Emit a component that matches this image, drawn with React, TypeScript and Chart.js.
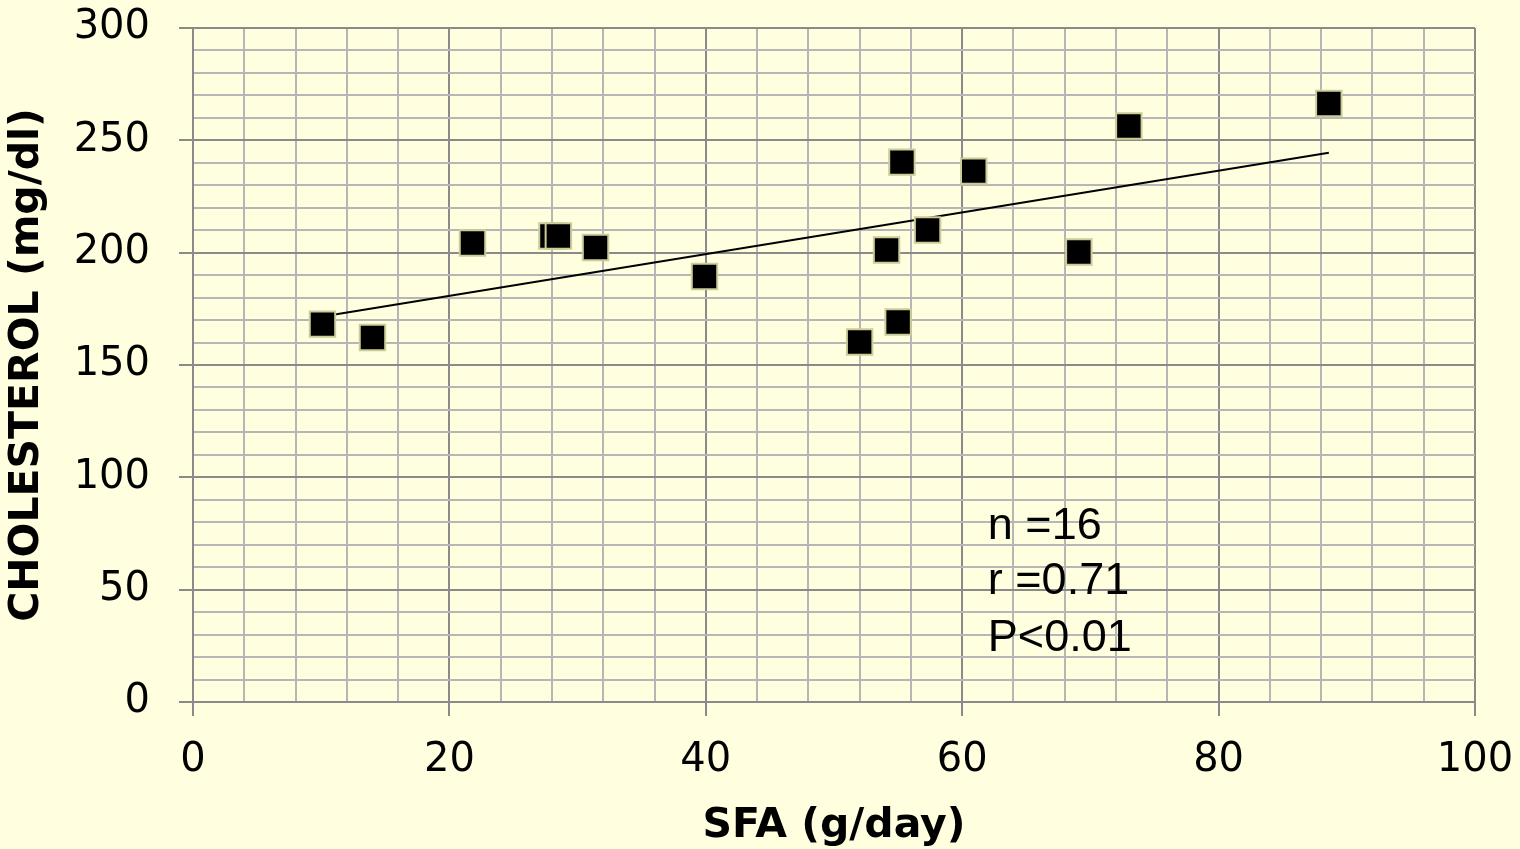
import React, { useEffect, useRef } from 'react';
import { Chart, registerables } from 'chart.js';

Chart.register(...registerables);

// SFA intake (g/day) of each subject
const sfaValues = [10.1, 14.0, 21.8, 28.0, 28.5, 31.4, 39.9, 52.0, 54.1, 55.0, 55.3, 57.3, 60.9, 69.1, 73.0, 88.6];
// Serum cholesterol (mg/dl) of each subject
const cholesterolValues = [168.2, 162.2, 204.3, 207.4, 207.4, 202.3, 189.4, 160.2, 201.2, 169.1, 240.3, 210.1, 236.3, 200.3, 256.4, 266.4];
// Linear trend line end points
const trendX = [10.1, 88.6];
const trendY = [171.6, 244.5];
// Axis label steps
const xMajorStep = 20;
const yMajorStep = 50;
// Annotation
const annotationLines = ['n =16', 'r =0.71', 'P<0.01'];
const annotationX = 62;
const annotationY = [78.8, 54.7, 28.9];

const BG = '#FFFFE0';
const MAJOR = '#8a8a8a';
const MINOR = '#b6b6b6';

const annotationPlugin = {
  id: 'statsText',
  afterDatasetsDraw(chart: any) {
    const { ctx, scales } = chart;
    ctx.save();
    ctx.fillStyle = '#000';
    ctx.font = '45px "Liberation Sans", Arial, sans-serif';
    ctx.textAlign = 'left';
    ctx.textBaseline = 'middle';
    annotationLines.forEach((t, i) => {
      const px = scales.x.getPixelForValue(annotationX);
      const py = scales.y.getPixelForValue(annotationY[i]);
      ctx.fillText(t, px, py + 2);
    });
    ctx.restore();
  },
};

const noPad = (s: any) => {
  s.paddingTop = 0;
  s.paddingBottom = 0;
  s.paddingLeft = 0;
  s.paddingRight = 0;
};

export default function App() {
  const ref = useRef<HTMLCanvasElement>(null);
  useEffect(() => {
    if (!ref.current) return;
    const points = sfaValues.map((x, i) => ({ x, y: cholesterolValues[i] }));
    const trend = trendX.map((x, i) => ({ x, y: trendY[i] }));
    const tickFont = { family: '"DejaVu Sans", sans-serif', size: 40 };
    const titleFont = { family: '"DejaVu Sans", sans-serif', size: 41, weight: 'bold' as const, lineHeight: 1 };
    const chart = new Chart(ref.current, {
      type: 'scatter',
      data: {
        datasets: [
          {
            label: 'Subjects',
            data: points,
            order: 0,
            pointStyle: 'rect',
            radius: 18,
            hoverRadius: 18,
            backgroundColor: '#000000',
            borderColor: '#cccc99',
            borderWidth: 2,
          },
          {
            label: 'Trend',
            type: 'line',
            data: trend,
            order: 1,
            borderColor: '#000000',
            borderWidth: 2,
            pointRadius: 0,
            fill: false,
          } as any,
        ],
      },
      options: {
        animation: false,
        responsive: false,
        events: [],
        layout: { padding: { left: 0, top: 28, right: 45, bottom: 0 } },
        plugins: { legend: { display: false }, tooltip: { enabled: false } },
        scales: {
          x: {
            type: 'linear',
            min: 0,
            max: 100,
            afterFit: (s: any) => { s.height = 147; noPad(s); },
            ticks: {
              stepSize: 4,
              autoSkip: false,
              maxRotation: 0,
              padding: 21,
              color: '#000',
              font: tickFont,
              callback: (v: any) => (Number(v) % xMajorStep === 0 ? String(v) : ''),
            },
            grid: {
              color: (c: any) => (c.tick && c.tick.value % xMajorStep === 0 ? MAJOR : MINOR),
              lineWidth: 2,
              tickLength: 14,
              tickWidth: 2,
              tickColor: (c: any) => (c.tick && c.tick.value % xMajorStep === 0 ? MAJOR : 'rgba(0,0,0,0)'),
            },
            border: { display: true, color: MAJOR, width: 2 },
            title: {
              display: true,
              text: 'SFA (g/day)',
              color: '#000',
              font: titleFont,
              padding: { top: 4, bottom: 2 },
            },
          },
          y: {
            type: 'linear',
            min: 0,
            max: 300,
            afterFit: (s: any) => { s.width = 193; noPad(s); },
            ticks: {
              stepSize: 10,
              autoSkip: false,
              padding: 29,
              color: '#000',
              font: tickFont,
              callback: (v: any) => (Number(v) % yMajorStep === 0 ? String(v) : ''),
            },
            grid: {
              color: (c: any) => (c.tick && c.tick.value % yMajorStep === 0 ? MAJOR : MINOR),
              lineWidth: 2,
              tickLength: 14,
              tickWidth: 2,
              tickColor: (c: any) => (c.tick && c.tick.value % yMajorStep === 0 ? MAJOR : 'rgba(0,0,0,0)'),
            },
            border: { display: true, color: MAJOR, width: 2 },
            title: {
              display: true,
              text: 'CHOLESTEROL (mg/dl)',
              color: '#000',
              font: titleFont,
              padding: { top: 7, bottom: 4 },
            },
          },
        },
      },
      plugins: [annotationPlugin],
    });
    return () => chart.destroy();
  }, []);

  return (
    <div style={{ position: 'fixed', left: 0, top: 0, width: 1520, height: 849, background: BG }}>
      <canvas ref={ref} width={1520} height={849} style={{ display: 'block' }} />
    </div>
  );
}
